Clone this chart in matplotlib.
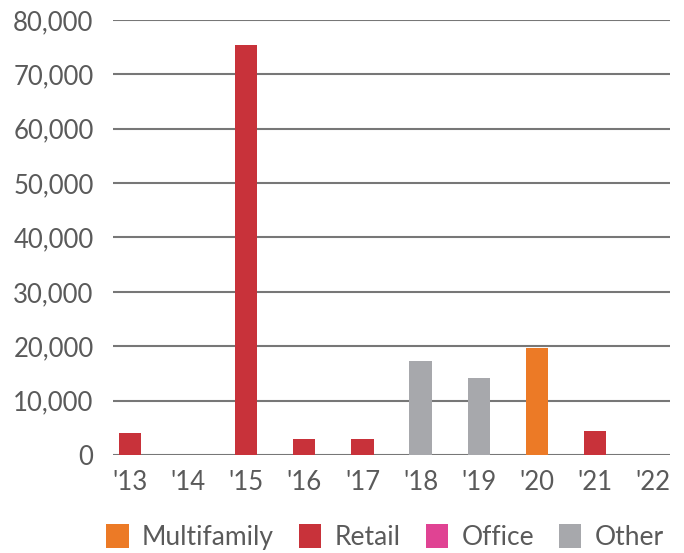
import numpy as np
import matplotlib.pyplot as plt
from matplotlib.patches import Patch

plt.rcParams['font.family'] = ['Lato', 'DejaVu Sans']

years = ["'13", "'14", "'15", "'16", "'17", "'18", "'19", "'20", "'21", "'22"]
multifamily = [0, 0, 0, 0, 0, 0, 0, 19700, 0, 0]
retail = [4100, 0, 75450, 2900, 2900, 0, 0, 0, 4500, 0]
office = [0, 0, 0, 0, 0, 0, 0, 0, 0, 0]
other = [0, 0, 0, 0, 0, 17200, 14100, 0, 0, 0]

colors = {
    "Multifamily": "#EC7A26",
    "Retail": "#C8323A",
    "Office": "#E04393",
    "Other": "#A7A8AC",
}
series = {"Multifamily": multifamily, "Retail": retail, "Office": office, "Other": other}

text_color = "#5a5a5a"
grid_color = "#777777"

fig = plt.figure(figsize=(6.84, 5.53), dpi=100)
ax = fig.add_axes([113 / 684, 1 - 455 / 553, 557 / 684, 435 / 553])

x = np.arange(len(years))
bottom = np.zeros(len(years))
for name, vals in series.items():
    vals = np.array(vals, dtype=float)
    ax.bar(x, vals, width=0.38, bottom=bottom, color=colors[name], zorder=3)
    bottom += vals

ax.set_xlim(-0.3, len(years) - 0.7)
ax.set_ylim(0, 80000)
ax.set_yticks(np.arange(0, 80001, 10000))
ax.yaxis.set_major_formatter(plt.FuncFormatter(lambda v, p: f"{int(v):,}"))
ax.set_xticks(x)
ax.set_xticklabels(years)

ax.grid(axis="y", color=grid_color, linewidth=1.5, zorder=1)
for s in ax.spines.values():
    s.set_visible(False)
ax.tick_params(axis="both", length=0, labelsize=18.5, colors=text_color)
ax.tick_params(axis="y", pad=14)
ax.tick_params(axis="x", pad=11)

# legend row under the axes
handles = [Patch(facecolor=c, edgecolor="none") for c in colors.values()]
fig.legend(handles, list(colors.keys()), loc="center", bbox_to_anchor=(385 / 684, 1 - 537 / 553),
           ncol=4, frameon=False, fontsize=19, labelcolor=text_color,
           handlelength=0.85, handleheight=1.0, handletextpad=0.5, columnspacing=0.95,
           borderpad=0, borderaxespad=0)

fig.savefig("out.png", dpi=100)
